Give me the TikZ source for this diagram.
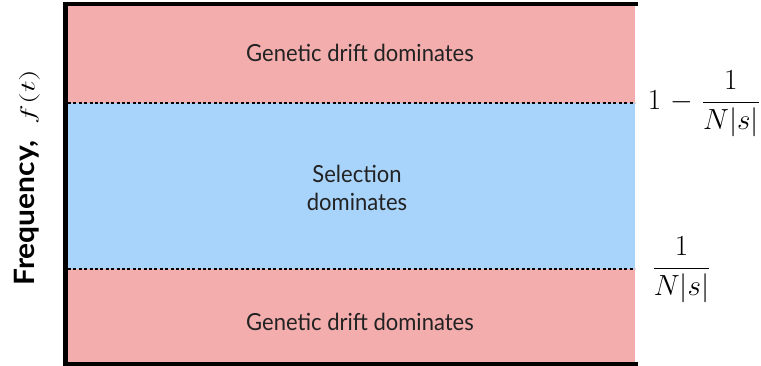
\documentclass[tikz,border=0pt]{standalone}
\usepackage{fontspec}
\usepackage{graphicx}
\setmainfont{Lato}
\definecolor{driftpink}{HTML}{F4ADAD}
\definecolor{selblue}{HTML}{A8D3FB}
\definecolor{txtgray}{HTML}{222222}
\begin{document}
\begin{tikzpicture}[x=1pt,y=-1pt,
  regtext/.style={text=txtgray, font=\fontsize{22}{28}\selectfont, align=center},
  axisline/.style={line width=#1, black},
  boundary/.style={black, line width=1.8pt, dash pattern=on 3pt off 2.4pt},
  threshlabel/.style={font=\fontsize{24.88}{30}\selectfont, inner sep=0pt}]
\useasboundingbox (0,0) rectangle (761,366);
% regions
\fill[driftpink] (68,6) rectangle (635,103);
\fill[selblue] (68,103) rectangle (635,269);
\fill[driftpink] (68,269) rectangle (635,362);
\coordinate (topL) at (68,103);
\coordinate (topR) at (635,103);
\coordinate (botL) at (68,269);
\coordinate (botR) at (635,269);
\draw[boundary] (topL) -- (topR);
\draw[boundary] (botL) -- (botR);
% axes
\coordinate (tl) at (63,4);
\coordinate (tr) at (638,4);
\coordinate (ltop) at (65.5,2);
\coordinate (lbot) at (65.5,366);
\coordinate (bl) at (63,364);
\coordinate (br) at (638,364);
\draw[axisline=4pt] (tl) -- (tr);
\draw[axisline=5pt] (ltop) -- (lbot);
\draw[axisline=4pt] (bl) -- (br);
% texts
\node[regtext] (drifttop) at (360,53) {\scalebox{1}[1.07]{Genetic drift dominates}};
\node[regtext] (sel) at (357,188) {\scalebox{1}[1.07]{Selection}\\\scalebox{1}[1.07]{dominates}};
\node[regtext] (driftbot) at (360,322) {\scalebox{1}[1.07]{Genetic drift dominates}};
\node[threshlabel] (upper) at (704,104) {\scalebox{1.17}{$\displaystyle 1\mskip1.5mu-\mskip1.5mu\frac{1}{N|s|}$}};
\node[threshlabel] (lower) at (681.5,270) {\scalebox{1.17}{$\displaystyle \frac{1}{N|s|}$}};
\node[rotate=90, inner sep=0pt] (ylab) at (27,177.5) {\scalebox{1.07}[1]{\fontsize{28}{32}\selectfont\bfseries Frequency,}\hspace{16pt}\scalebox{1.6}[1]{\fontsize{20.74}{24}\selectfont$f(t)$}};
\end{tikzpicture}
\end{document}
